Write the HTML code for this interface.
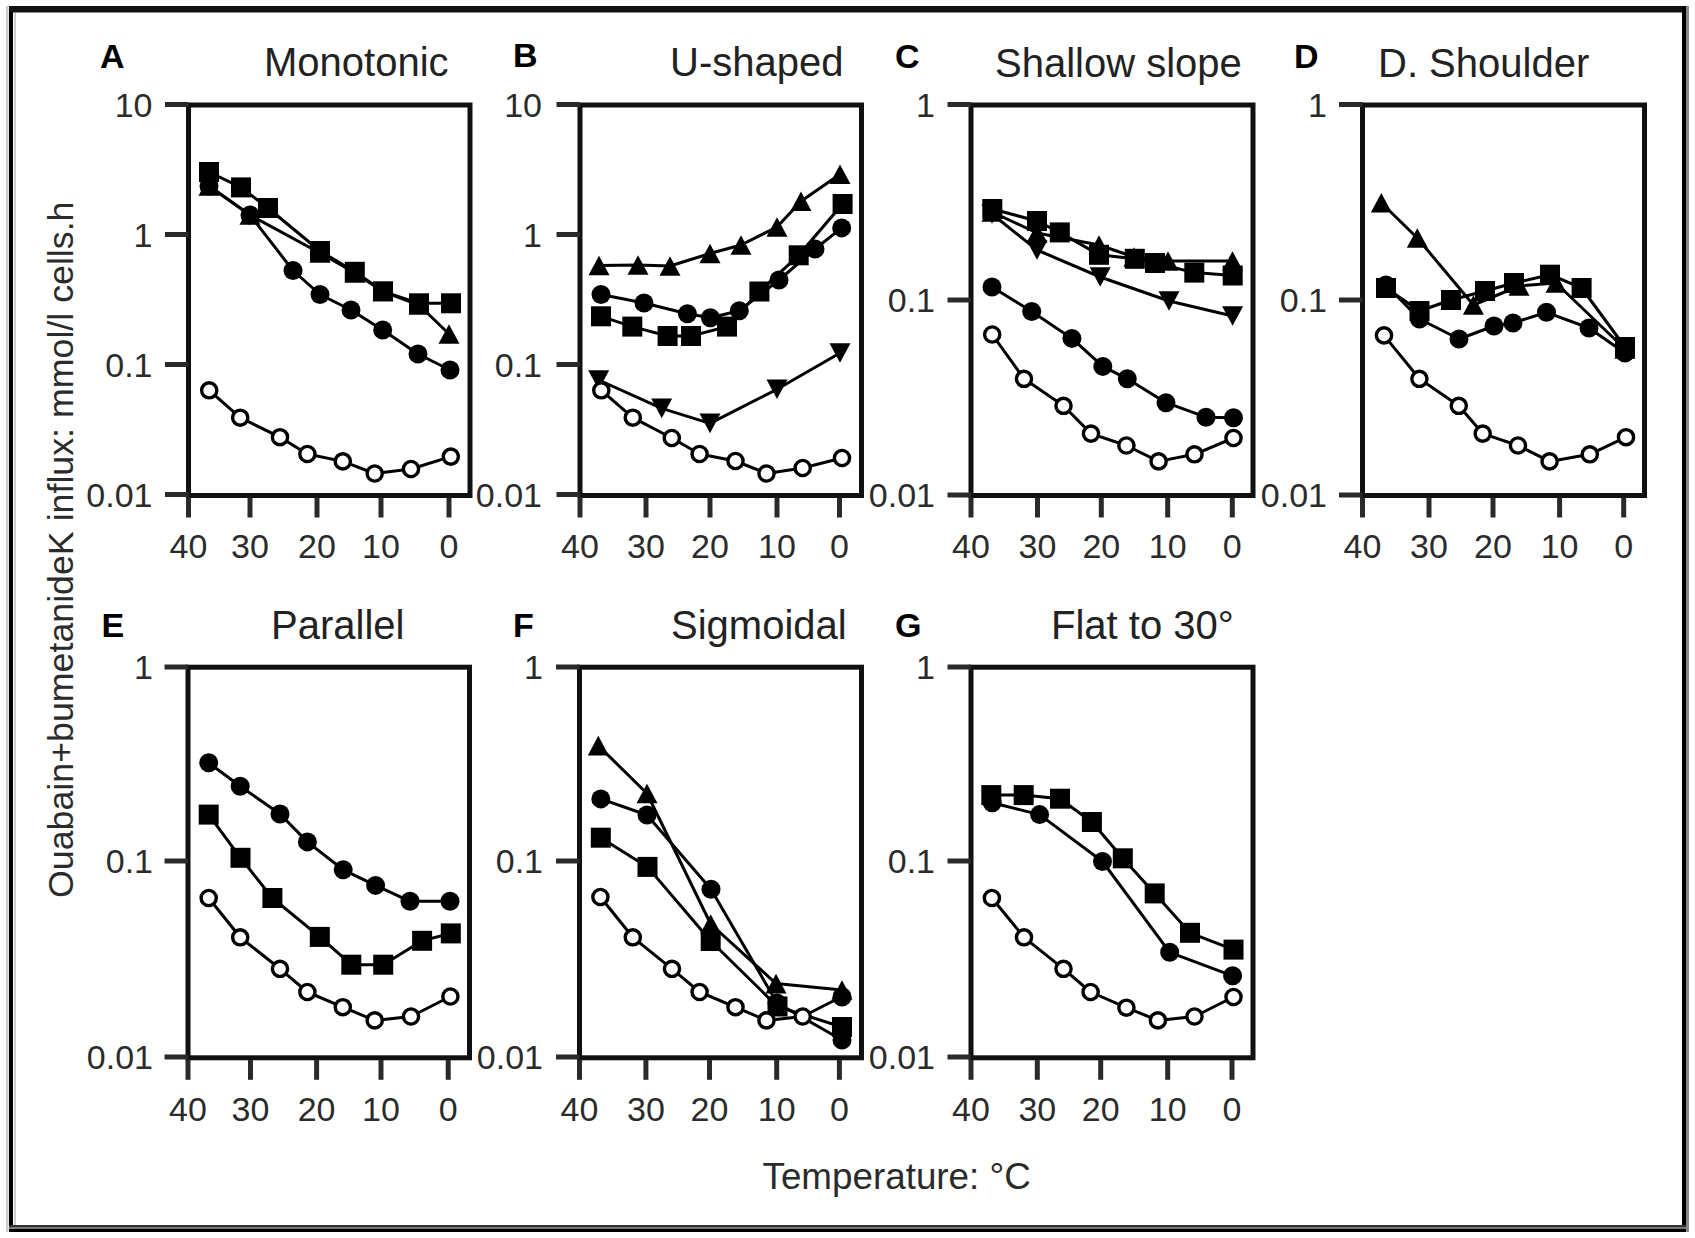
<!DOCTYPE html><html><head><meta charset="utf-8"><title>Figure</title><style>html,body{margin:0;padding:0;background:#fff;}svg{display:block;}</style></head><body><svg width="1695" height="1238" viewBox="0 0 1695 1238" font-family="Liberation Sans, Arial, sans-serif">
<rect width="1695" height="1238" fill="#fff"/>
<rect x="6" y="6" width="2.5" height="1226" fill="#ccc"/>
<rect x="9" y="6" width="4" height="1226" fill="#000"/>
<rect x="14" y="13" width="2" height="1212" fill="#ccc"/>
<rect x="9" y="6" width="1680" height="6.5" fill="#111"/>
<rect x="1682" y="6" width="4" height="1226" fill="#000"/>
<rect x="1686" y="6" width="3" height="1226" fill="#888"/>
<rect x="9" y="1225" width="1677" height="2.5" fill="#333"/>
<rect x="9" y="1227" width="1677" height="2" fill="#777"/>
<rect x="9" y="1229" width="1677" height="3" fill="#000"/>
<rect x="188.5" y="105.0" width="281.5" height="390.5" fill="none" stroke="#111" stroke-width="5.0"/>
<line x1="165.0" y1="104.5" x2="188.5" y2="104.5" stroke="#2a2a2a" stroke-width="5"/>
<text x="152.5" y="116.7" font-size="34" text-anchor="end" fill="#2b2b2b">10</text>
<line x1="165.0" y1="234.5" x2="188.5" y2="234.5" stroke="#2a2a2a" stroke-width="5"/>
<text x="152.5" y="246.7" font-size="34" text-anchor="end" fill="#2b2b2b">1</text>
<line x1="165.0" y1="364.5" x2="188.5" y2="364.5" stroke="#2a2a2a" stroke-width="5"/>
<text x="152.5" y="376.7" font-size="34" text-anchor="end" fill="#2b2b2b">0.1</text>
<line x1="165.0" y1="494.5" x2="188.5" y2="494.5" stroke="#2a2a2a" stroke-width="5"/>
<text x="152.5" y="506.7" font-size="34" text-anchor="end" fill="#2b2b2b">0.01</text>
<line x1="188.5" y1="497.5" x2="188.5" y2="517.5" stroke="#2a2a2a" stroke-width="5"/>
<text x="188.5" y="557.5" font-size="34" text-anchor="middle" fill="#2b2b2b">40</text>
<line x1="250" y1="497.5" x2="250" y2="517.5" stroke="#2a2a2a" stroke-width="5"/>
<text x="250" y="557.5" font-size="34" text-anchor="middle" fill="#2b2b2b">30</text>
<line x1="317" y1="497.5" x2="317" y2="517.5" stroke="#2a2a2a" stroke-width="5"/>
<text x="317" y="557.5" font-size="34" text-anchor="middle" fill="#2b2b2b">20</text>
<line x1="381" y1="497.5" x2="381" y2="517.5" stroke="#2a2a2a" stroke-width="5"/>
<text x="381" y="557.5" font-size="34" text-anchor="middle" fill="#2b2b2b">10</text>
<line x1="449" y1="497.5" x2="449" y2="517.5" stroke="#2a2a2a" stroke-width="5"/>
<text x="449" y="557.5" font-size="34" text-anchor="middle" fill="#2b2b2b">0</text>
<rect x="580.0" y="105.0" width="281.5" height="390.5" fill="none" stroke="#111" stroke-width="5.0"/>
<line x1="556.5" y1="104.5" x2="580.0" y2="104.5" stroke="#2a2a2a" stroke-width="5"/>
<text x="542" y="116.7" font-size="34" text-anchor="end" fill="#2b2b2b">10</text>
<line x1="556.5" y1="234.5" x2="580.0" y2="234.5" stroke="#2a2a2a" stroke-width="5"/>
<text x="542" y="246.7" font-size="34" text-anchor="end" fill="#2b2b2b">1</text>
<line x1="556.5" y1="364.5" x2="580.0" y2="364.5" stroke="#2a2a2a" stroke-width="5"/>
<text x="542" y="376.7" font-size="34" text-anchor="end" fill="#2b2b2b">0.1</text>
<line x1="556.5" y1="494.5" x2="580.0" y2="494.5" stroke="#2a2a2a" stroke-width="5"/>
<text x="542" y="506.7" font-size="34" text-anchor="end" fill="#2b2b2b">0.01</text>
<line x1="580" y1="497.5" x2="580" y2="517.5" stroke="#2a2a2a" stroke-width="5"/>
<text x="580" y="557.5" font-size="34" text-anchor="middle" fill="#2b2b2b">40</text>
<line x1="646" y1="497.5" x2="646" y2="517.5" stroke="#2a2a2a" stroke-width="5"/>
<text x="646" y="557.5" font-size="34" text-anchor="middle" fill="#2b2b2b">30</text>
<line x1="710" y1="497.5" x2="710" y2="517.5" stroke="#2a2a2a" stroke-width="5"/>
<text x="710" y="557.5" font-size="34" text-anchor="middle" fill="#2b2b2b">20</text>
<line x1="777" y1="497.5" x2="777" y2="517.5" stroke="#2a2a2a" stroke-width="5"/>
<text x="777" y="557.5" font-size="34" text-anchor="middle" fill="#2b2b2b">10</text>
<line x1="839.5" y1="497.5" x2="839.5" y2="517.5" stroke="#2a2a2a" stroke-width="5"/>
<text x="839.5" y="557.5" font-size="34" text-anchor="middle" fill="#2b2b2b">0</text>
<rect x="971.0" y="105.0" width="282.0" height="390.5" fill="none" stroke="#111" stroke-width="5.0"/>
<line x1="947.5" y1="104.5" x2="971.0" y2="104.5" stroke="#2a2a2a" stroke-width="5"/>
<text x="935" y="116.7" font-size="34" text-anchor="end" fill="#2b2b2b">1</text>
<line x1="947.5" y1="300.0" x2="971.0" y2="300.0" stroke="#2a2a2a" stroke-width="5"/>
<text x="935" y="312.2" font-size="34" text-anchor="end" fill="#2b2b2b">0.1</text>
<line x1="947.5" y1="495.0" x2="971.0" y2="495.0" stroke="#2a2a2a" stroke-width="5"/>
<text x="935" y="507.2" font-size="34" text-anchor="end" fill="#2b2b2b">0.01</text>
<line x1="971" y1="497.5" x2="971" y2="517.5" stroke="#2a2a2a" stroke-width="5"/>
<text x="971" y="557.5" font-size="34" text-anchor="middle" fill="#2b2b2b">40</text>
<line x1="1037.5" y1="497.5" x2="1037.5" y2="517.5" stroke="#2a2a2a" stroke-width="5"/>
<text x="1037.5" y="557.5" font-size="34" text-anchor="middle" fill="#2b2b2b">30</text>
<line x1="1101.3" y1="497.5" x2="1101.3" y2="517.5" stroke="#2a2a2a" stroke-width="5"/>
<text x="1101.3" y="557.5" font-size="34" text-anchor="middle" fill="#2b2b2b">20</text>
<line x1="1167.7" y1="497.5" x2="1167.7" y2="517.5" stroke="#2a2a2a" stroke-width="5"/>
<text x="1167.7" y="557.5" font-size="34" text-anchor="middle" fill="#2b2b2b">10</text>
<line x1="1232.3" y1="497.5" x2="1232.3" y2="517.5" stroke="#2a2a2a" stroke-width="5"/>
<text x="1232.3" y="557.5" font-size="34" text-anchor="middle" fill="#2b2b2b">0</text>
<rect x="1362.5" y="105.0" width="282.0" height="390.5" fill="none" stroke="#111" stroke-width="5.0"/>
<line x1="1339.0" y1="104.5" x2="1362.5" y2="104.5" stroke="#2a2a2a" stroke-width="5"/>
<text x="1327" y="116.7" font-size="34" text-anchor="end" fill="#2b2b2b">1</text>
<line x1="1339.0" y1="300.0" x2="1362.5" y2="300.0" stroke="#2a2a2a" stroke-width="5"/>
<text x="1327" y="312.2" font-size="34" text-anchor="end" fill="#2b2b2b">0.1</text>
<line x1="1339.0" y1="495.0" x2="1362.5" y2="495.0" stroke="#2a2a2a" stroke-width="5"/>
<text x="1327" y="507.2" font-size="34" text-anchor="end" fill="#2b2b2b">0.01</text>
<line x1="1362.5" y1="497.5" x2="1362.5" y2="517.5" stroke="#2a2a2a" stroke-width="5"/>
<text x="1362.5" y="557.5" font-size="34" text-anchor="middle" fill="#2b2b2b">40</text>
<line x1="1429" y1="497.5" x2="1429" y2="517.5" stroke="#2a2a2a" stroke-width="5"/>
<text x="1429" y="557.5" font-size="34" text-anchor="middle" fill="#2b2b2b">30</text>
<line x1="1493" y1="497.5" x2="1493" y2="517.5" stroke="#2a2a2a" stroke-width="5"/>
<text x="1493" y="557.5" font-size="34" text-anchor="middle" fill="#2b2b2b">20</text>
<line x1="1559.6" y1="497.5" x2="1559.6" y2="517.5" stroke="#2a2a2a" stroke-width="5"/>
<text x="1559.6" y="557.5" font-size="34" text-anchor="middle" fill="#2b2b2b">10</text>
<line x1="1623.7" y1="497.5" x2="1623.7" y2="517.5" stroke="#2a2a2a" stroke-width="5"/>
<text x="1623.7" y="557.5" font-size="34" text-anchor="middle" fill="#2b2b2b">0</text>
<rect x="188.0" y="667.2" width="281.5" height="390.5999999999999" fill="none" stroke="#111" stroke-width="5.0"/>
<line x1="164.5" y1="667.0" x2="188.0" y2="667.0" stroke="#2a2a2a" stroke-width="5"/>
<text x="153" y="679.2" font-size="34" text-anchor="end" fill="#2b2b2b">1</text>
<line x1="164.5" y1="861.0" x2="188.0" y2="861.0" stroke="#2a2a2a" stroke-width="5"/>
<text x="153" y="873.2" font-size="34" text-anchor="end" fill="#2b2b2b">0.1</text>
<line x1="164.5" y1="1057.0" x2="188.0" y2="1057.0" stroke="#2a2a2a" stroke-width="5"/>
<text x="153" y="1069.2" font-size="34" text-anchor="end" fill="#2b2b2b">0.01</text>
<line x1="188" y1="1059.8" x2="188" y2="1079.8" stroke="#2a2a2a" stroke-width="5"/>
<text x="188" y="1121.1" font-size="34" text-anchor="middle" fill="#2b2b2b">40</text>
<line x1="250.5" y1="1059.8" x2="250.5" y2="1079.8" stroke="#2a2a2a" stroke-width="5"/>
<text x="250.5" y="1121.1" font-size="34" text-anchor="middle" fill="#2b2b2b">30</text>
<line x1="316.6" y1="1059.8" x2="316.6" y2="1079.8" stroke="#2a2a2a" stroke-width="5"/>
<text x="316.6" y="1121.1" font-size="34" text-anchor="middle" fill="#2b2b2b">20</text>
<line x1="381" y1="1059.8" x2="381" y2="1079.8" stroke="#2a2a2a" stroke-width="5"/>
<text x="381" y="1121.1" font-size="34" text-anchor="middle" fill="#2b2b2b">10</text>
<line x1="448.2" y1="1059.8" x2="448.2" y2="1079.8" stroke="#2a2a2a" stroke-width="5"/>
<text x="448.2" y="1121.1" font-size="34" text-anchor="middle" fill="#2b2b2b">0</text>
<rect x="579.5" y="667.2" width="282.0" height="390.5999999999999" fill="none" stroke="#111" stroke-width="5.0"/>
<line x1="556.0" y1="667.0" x2="579.5" y2="667.0" stroke="#2a2a2a" stroke-width="5"/>
<text x="543" y="679.2" font-size="34" text-anchor="end" fill="#2b2b2b">1</text>
<line x1="556.0" y1="861.0" x2="579.5" y2="861.0" stroke="#2a2a2a" stroke-width="5"/>
<text x="543" y="873.2" font-size="34" text-anchor="end" fill="#2b2b2b">0.1</text>
<line x1="556.0" y1="1057.0" x2="579.5" y2="1057.0" stroke="#2a2a2a" stroke-width="5"/>
<text x="543" y="1069.2" font-size="34" text-anchor="end" fill="#2b2b2b">0.01</text>
<line x1="579.5" y1="1059.8" x2="579.5" y2="1079.8" stroke="#2a2a2a" stroke-width="5"/>
<text x="579.5" y="1121.1" font-size="34" text-anchor="middle" fill="#2b2b2b">40</text>
<line x1="645.9" y1="1059.8" x2="645.9" y2="1079.8" stroke="#2a2a2a" stroke-width="5"/>
<text x="645.9" y="1121.1" font-size="34" text-anchor="middle" fill="#2b2b2b">30</text>
<line x1="709.5" y1="1059.8" x2="709.5" y2="1079.8" stroke="#2a2a2a" stroke-width="5"/>
<text x="709.5" y="1121.1" font-size="34" text-anchor="middle" fill="#2b2b2b">20</text>
<line x1="776.7" y1="1059.8" x2="776.7" y2="1079.8" stroke="#2a2a2a" stroke-width="5"/>
<text x="776.7" y="1121.1" font-size="34" text-anchor="middle" fill="#2b2b2b">10</text>
<line x1="839.4" y1="1059.8" x2="839.4" y2="1079.8" stroke="#2a2a2a" stroke-width="5"/>
<text x="839.4" y="1121.1" font-size="34" text-anchor="middle" fill="#2b2b2b">0</text>
<rect x="971.0" y="667.2" width="282.0" height="390.5999999999999" fill="none" stroke="#111" stroke-width="5.0"/>
<line x1="947.5" y1="667.0" x2="971.0" y2="667.0" stroke="#2a2a2a" stroke-width="5"/>
<text x="935" y="679.2" font-size="34" text-anchor="end" fill="#2b2b2b">1</text>
<line x1="947.5" y1="861.0" x2="971.0" y2="861.0" stroke="#2a2a2a" stroke-width="5"/>
<text x="935" y="873.2" font-size="34" text-anchor="end" fill="#2b2b2b">0.1</text>
<line x1="947.5" y1="1057.0" x2="971.0" y2="1057.0" stroke="#2a2a2a" stroke-width="5"/>
<text x="935" y="1069.2" font-size="34" text-anchor="end" fill="#2b2b2b">0.01</text>
<line x1="971" y1="1059.8" x2="971" y2="1079.8" stroke="#2a2a2a" stroke-width="5"/>
<text x="971" y="1121.1" font-size="34" text-anchor="middle" fill="#2b2b2b">40</text>
<line x1="1037.3" y1="1059.8" x2="1037.3" y2="1079.8" stroke="#2a2a2a" stroke-width="5"/>
<text x="1037.3" y="1121.1" font-size="34" text-anchor="middle" fill="#2b2b2b">30</text>
<line x1="1100.7" y1="1059.8" x2="1100.7" y2="1079.8" stroke="#2a2a2a" stroke-width="5"/>
<text x="1100.7" y="1121.1" font-size="34" text-anchor="middle" fill="#2b2b2b">20</text>
<line x1="1167.7" y1="1059.8" x2="1167.7" y2="1079.8" stroke="#2a2a2a" stroke-width="5"/>
<text x="1167.7" y="1121.1" font-size="34" text-anchor="middle" fill="#2b2b2b">10</text>
<line x1="1232" y1="1059.8" x2="1232" y2="1079.8" stroke="#2a2a2a" stroke-width="5"/>
<text x="1232" y="1121.1" font-size="34" text-anchor="middle" fill="#2b2b2b">0</text>
<path d="M209.0,186.0 L250.0,215.0 L320.0,253.0 L355.0,273.0 L383.0,291.5 L419.0,305.0 L449.0,334.0" fill="none" stroke="#000" stroke-width="3.0" stroke-linejoin="round"/>
<path d="M209.0,186.0 L250.0,215.0 L293.0,270.5 L320.0,294.5 L351.0,310.0 L382.7,330.0 L418.0,354.0 L450.0,370.0" fill="none" stroke="#000" stroke-width="3.0" stroke-linejoin="round"/>
<path d="M209.0,172.0 L241.0,187.4 L268.0,208.0 L320.0,251.0 L354.8,271.8 L383.0,291.3 L419.0,303.3 L451.0,303.3" fill="none" stroke="#000" stroke-width="3.0" stroke-linejoin="round"/>
<path d="M209.2,390.3 L240.2,417.7 L280.0,437.2 L307.4,454.0 L342.8,461.4 L374.7,473.5 L411.0,469.0 L450.8,456.6" fill="none" stroke="#000" stroke-width="3.0" stroke-linejoin="round"/>
<path d="M209.0,176.2 L219.5,195.8 L198.5,195.8 Z" fill="#000"/>
<path d="M250.0,205.2 L260.5,224.8 L239.5,224.8 Z" fill="#000"/>
<path d="M320.0,243.2 L330.5,262.8 L309.5,262.8 Z" fill="#000"/>
<path d="M355.0,263.2 L365.5,282.8 L344.5,282.8 Z" fill="#000"/>
<path d="M383.0,281.7 L393.5,301.3 L372.5,301.3 Z" fill="#000"/>
<path d="M419.0,295.2 L429.5,314.8 L408.5,314.8 Z" fill="#000"/>
<path d="M449.0,324.2 L459.5,343.8 L438.5,343.8 Z" fill="#000"/>
<circle cx="209.0" cy="186.0" r="9.5" fill="#000"/>
<circle cx="250.0" cy="215.0" r="9.5" fill="#000"/>
<circle cx="293.0" cy="270.5" r="9.5" fill="#000"/>
<circle cx="320.0" cy="294.5" r="9.5" fill="#000"/>
<circle cx="351.0" cy="310.0" r="9.5" fill="#000"/>
<circle cx="382.7" cy="330.0" r="9.5" fill="#000"/>
<circle cx="418.0" cy="354.0" r="9.5" fill="#000"/>
<circle cx="450.0" cy="370.0" r="9.5" fill="#000"/>
<rect x="199.0" y="162.0" width="20.0" height="20.0" fill="#000"/>
<rect x="231.0" y="177.4" width="20.0" height="20.0" fill="#000"/>
<rect x="258.0" y="198.0" width="20.0" height="20.0" fill="#000"/>
<rect x="310.0" y="241.0" width="20.0" height="20.0" fill="#000"/>
<rect x="344.8" y="261.8" width="20.0" height="20.0" fill="#000"/>
<rect x="373.0" y="281.3" width="20.0" height="20.0" fill="#000"/>
<rect x="409.0" y="293.3" width="20.0" height="20.0" fill="#000"/>
<rect x="441.0" y="293.3" width="20.0" height="20.0" fill="#000"/>
<circle cx="209.2" cy="390.3" r="7.6" fill="#fff" stroke="#000" stroke-width="3.4"/>
<circle cx="240.2" cy="417.7" r="7.6" fill="#fff" stroke="#000" stroke-width="3.4"/>
<circle cx="280.0" cy="437.2" r="7.6" fill="#fff" stroke="#000" stroke-width="3.4"/>
<circle cx="307.4" cy="454.0" r="7.6" fill="#fff" stroke="#000" stroke-width="3.4"/>
<circle cx="342.8" cy="461.4" r="7.6" fill="#fff" stroke="#000" stroke-width="3.4"/>
<circle cx="374.7" cy="473.5" r="7.6" fill="#fff" stroke="#000" stroke-width="3.4"/>
<circle cx="411.0" cy="469.0" r="7.6" fill="#fff" stroke="#000" stroke-width="3.4"/>
<circle cx="450.8" cy="456.6" r="7.6" fill="#fff" stroke="#000" stroke-width="3.4"/>
<path d="M599.0,265.5 L638.0,265.0 L670.0,266.0 L710.0,253.5 L741.0,245.0 L777.0,227.0 L801.0,201.3 L840.0,174.3" fill="none" stroke="#000" stroke-width="3.0" stroke-linejoin="round"/>
<path d="M601.0,294.5 L644.0,303.0 L687.4,313.7 L710.4,317.8 L739.3,310.7 L779.0,280.0 L815.0,249.0 L841.7,227.9" fill="none" stroke="#000" stroke-width="3.0" stroke-linejoin="round"/>
<path d="M601.0,316.3 L632.3,326.6 L667.6,336.0 L691.0,336.0 L727.0,326.6 L759.4,291.5 L798.7,255.3 L842.6,204.0" fill="none" stroke="#000" stroke-width="3.0" stroke-linejoin="round"/>
<path d="M598.7,380.0 L661.7,408.4 L710.0,423.4 L777.0,389.3 L840.0,353.0" fill="none" stroke="#000" stroke-width="3.0" stroke-linejoin="round"/>
<path d="M601.3,390.3 L632.8,417.7 L671.8,438.0 L699.6,454.0 L735.5,461.0 L766.5,473.5 L802.7,468.0 L842.0,458.0" fill="none" stroke="#000" stroke-width="3.0" stroke-linejoin="round"/>
<path d="M599.0,255.7 L609.5,275.3 L588.5,275.3 Z" fill="#000"/>
<path d="M638.0,255.2 L648.5,274.8 L627.5,274.8 Z" fill="#000"/>
<path d="M670.0,256.2 L680.5,275.8 L659.5,275.8 Z" fill="#000"/>
<path d="M710.0,243.7 L720.5,263.3 L699.5,263.3 Z" fill="#000"/>
<path d="M741.0,235.2 L751.5,254.8 L730.5,254.8 Z" fill="#000"/>
<path d="M777.0,217.2 L787.5,236.8 L766.5,236.8 Z" fill="#000"/>
<path d="M801.0,191.5 L811.5,211.1 L790.5,211.1 Z" fill="#000"/>
<path d="M840.0,164.5 L850.5,184.1 L829.5,184.1 Z" fill="#000"/>
<circle cx="601.0" cy="294.5" r="9.5" fill="#000"/>
<circle cx="644.0" cy="303.0" r="9.5" fill="#000"/>
<circle cx="687.4" cy="313.7" r="9.5" fill="#000"/>
<circle cx="710.4" cy="317.8" r="9.5" fill="#000"/>
<circle cx="739.3" cy="310.7" r="9.5" fill="#000"/>
<circle cx="779.0" cy="280.0" r="9.5" fill="#000"/>
<circle cx="815.0" cy="249.0" r="9.5" fill="#000"/>
<circle cx="841.7" cy="227.9" r="9.5" fill="#000"/>
<rect x="591.0" y="306.3" width="20.0" height="20.0" fill="#000"/>
<rect x="622.3" y="316.6" width="20.0" height="20.0" fill="#000"/>
<rect x="657.6" y="326.0" width="20.0" height="20.0" fill="#000"/>
<rect x="681.0" y="326.0" width="20.0" height="20.0" fill="#000"/>
<rect x="717.0" y="316.6" width="20.0" height="20.0" fill="#000"/>
<rect x="749.4" y="281.5" width="20.0" height="20.0" fill="#000"/>
<rect x="788.7" y="245.3" width="20.0" height="20.0" fill="#000"/>
<rect x="832.6" y="194.0" width="20.0" height="20.0" fill="#000"/>
<path d="M598.7,389.8 L609.2,370.2 L588.2,370.2 Z" fill="#000"/>
<path d="M661.7,418.2 L672.2,398.6 L651.2,398.6 Z" fill="#000"/>
<path d="M710.0,433.2 L720.5,413.6 L699.5,413.6 Z" fill="#000"/>
<path d="M777.0,399.1 L787.5,379.5 L766.5,379.5 Z" fill="#000"/>
<path d="M840.0,362.8 L850.5,343.2 L829.5,343.2 Z" fill="#000"/>
<circle cx="601.3" cy="390.3" r="7.6" fill="#fff" stroke="#000" stroke-width="3.4"/>
<circle cx="632.8" cy="417.7" r="7.6" fill="#fff" stroke="#000" stroke-width="3.4"/>
<circle cx="671.8" cy="438.0" r="7.6" fill="#fff" stroke="#000" stroke-width="3.4"/>
<circle cx="699.6" cy="454.0" r="7.6" fill="#fff" stroke="#000" stroke-width="3.4"/>
<circle cx="735.5" cy="461.0" r="7.6" fill="#fff" stroke="#000" stroke-width="3.4"/>
<circle cx="766.5" cy="473.5" r="7.6" fill="#fff" stroke="#000" stroke-width="3.4"/>
<circle cx="802.7" cy="468.0" r="7.6" fill="#fff" stroke="#000" stroke-width="3.4"/>
<circle cx="842.0" cy="458.0" r="7.6" fill="#fff" stroke="#000" stroke-width="3.4"/>
<path d="M992.0,214.0 L1037.0,250.0 L1100.2,277.0 L1169.0,301.0 L1232.6,316.0" fill="none" stroke="#000" stroke-width="3.0" stroke-linejoin="round"/>
<path d="M992.0,212.0 L1037.0,233.0 L1099.0,245.0 L1134.0,257.0 L1168.0,261.0 L1232.5,261.0" fill="none" stroke="#000" stroke-width="3.0" stroke-linejoin="round"/>
<path d="M992.3,209.0 L1037.0,221.0 L1059.8,232.4 L1099.0,254.8 L1134.8,258.8 L1155.0,263.0 L1194.3,272.6 L1232.7,275.5" fill="none" stroke="#000" stroke-width="3.0" stroke-linejoin="round"/>
<path d="M992.0,287.0 L1031.7,311.5 L1071.9,338.4 L1102.8,366.4 L1127.3,378.8 L1166.0,402.7 L1206.0,417.2 L1233.5,417.7" fill="none" stroke="#000" stroke-width="3.0" stroke-linejoin="round"/>
<path d="M992.2,334.5 L1024.0,378.8 L1063.5,405.8 L1091.0,433.6 L1126.4,445.5 L1158.6,461.4 L1194.5,454.3 L1233.5,438.0" fill="none" stroke="#000" stroke-width="3.0" stroke-linejoin="round"/>
<path d="M992.0,223.8 L1002.5,204.2 L981.5,204.2 Z" fill="#000"/>
<path d="M1037.0,259.8 L1047.5,240.2 L1026.5,240.2 Z" fill="#000"/>
<path d="M1100.2,286.8 L1110.7,267.2 L1089.7,267.2 Z" fill="#000"/>
<path d="M1169.0,310.8 L1179.5,291.2 L1158.5,291.2 Z" fill="#000"/>
<path d="M1232.6,325.8 L1243.1,306.2 L1222.1,306.2 Z" fill="#000"/>
<path d="M992.0,202.2 L1002.5,221.8 L981.5,221.8 Z" fill="#000"/>
<path d="M1037.0,223.2 L1047.5,242.8 L1026.5,242.8 Z" fill="#000"/>
<path d="M1099.0,235.2 L1109.5,254.8 L1088.5,254.8 Z" fill="#000"/>
<path d="M1134.0,247.2 L1144.5,266.8 L1123.5,266.8 Z" fill="#000"/>
<path d="M1168.0,251.2 L1178.5,270.8 L1157.5,270.8 Z" fill="#000"/>
<path d="M1232.5,251.2 L1243.0,270.8 L1222.0,270.8 Z" fill="#000"/>
<rect x="982.3" y="199.0" width="20.0" height="20.0" fill="#000"/>
<rect x="1027.0" y="211.0" width="20.0" height="20.0" fill="#000"/>
<rect x="1049.8" y="222.4" width="20.0" height="20.0" fill="#000"/>
<rect x="1089.0" y="244.8" width="20.0" height="20.0" fill="#000"/>
<rect x="1124.8" y="248.8" width="20.0" height="20.0" fill="#000"/>
<rect x="1145.0" y="253.0" width="20.0" height="20.0" fill="#000"/>
<rect x="1184.3" y="262.6" width="20.0" height="20.0" fill="#000"/>
<rect x="1222.7" y="265.5" width="20.0" height="20.0" fill="#000"/>
<circle cx="992.0" cy="287.0" r="9.5" fill="#000"/>
<circle cx="1031.7" cy="311.5" r="9.5" fill="#000"/>
<circle cx="1071.9" cy="338.4" r="9.5" fill="#000"/>
<circle cx="1102.8" cy="366.4" r="9.5" fill="#000"/>
<circle cx="1127.3" cy="378.8" r="9.5" fill="#000"/>
<circle cx="1166.0" cy="402.7" r="9.5" fill="#000"/>
<circle cx="1206.0" cy="417.2" r="9.5" fill="#000"/>
<circle cx="1233.5" cy="417.7" r="9.5" fill="#000"/>
<circle cx="992.2" cy="334.5" r="7.6" fill="#fff" stroke="#000" stroke-width="3.4"/>
<circle cx="1024.0" cy="378.8" r="7.6" fill="#fff" stroke="#000" stroke-width="3.4"/>
<circle cx="1063.5" cy="405.8" r="7.6" fill="#fff" stroke="#000" stroke-width="3.4"/>
<circle cx="1091.0" cy="433.6" r="7.6" fill="#fff" stroke="#000" stroke-width="3.4"/>
<circle cx="1126.4" cy="445.5" r="7.6" fill="#fff" stroke="#000" stroke-width="3.4"/>
<circle cx="1158.6" cy="461.4" r="7.6" fill="#fff" stroke="#000" stroke-width="3.4"/>
<circle cx="1194.5" cy="454.3" r="7.6" fill="#fff" stroke="#000" stroke-width="3.4"/>
<circle cx="1233.5" cy="438.0" r="7.6" fill="#fff" stroke="#000" stroke-width="3.4"/>
<path d="M1381.3,202.7 L1417.3,238.0 L1473.4,305.0 L1519.0,286.0 L1556.0,283.0 L1625.0,349.0" fill="none" stroke="#000" stroke-width="3.0" stroke-linejoin="round"/>
<path d="M1386.0,285.0 L1419.5,319.0 L1459.0,339.0 L1494.0,326.0 L1513.0,323.0 L1546.5,312.3 L1589.0,328.0 L1625.0,353.0" fill="none" stroke="#000" stroke-width="3.0" stroke-linejoin="round"/>
<path d="M1386.0,288.0 L1419.5,311.0 L1451.0,300.0 L1485.0,291.0 L1514.0,283.0 L1550.0,274.7 L1581.6,288.0 L1625.0,347.0" fill="none" stroke="#000" stroke-width="3.0" stroke-linejoin="round"/>
<path d="M1384.0,335.4 L1419.4,378.8 L1458.8,405.8 L1482.7,433.6 L1518.0,445.5 L1549.6,461.4 L1589.8,454.3 L1626.0,437.2" fill="none" stroke="#000" stroke-width="3.0" stroke-linejoin="round"/>
<path d="M1381.3,192.9 L1391.8,212.5 L1370.8,212.5 Z" fill="#000"/>
<path d="M1417.3,228.2 L1427.8,247.8 L1406.8,247.8 Z" fill="#000"/>
<path d="M1473.4,295.2 L1483.9,314.8 L1462.9,314.8 Z" fill="#000"/>
<path d="M1519.0,276.2 L1529.5,295.8 L1508.5,295.8 Z" fill="#000"/>
<path d="M1556.0,273.2 L1566.5,292.8 L1545.5,292.8 Z" fill="#000"/>
<path d="M1625.0,339.2 L1635.5,358.8 L1614.5,358.8 Z" fill="#000"/>
<circle cx="1386.0" cy="285.0" r="9.5" fill="#000"/>
<circle cx="1419.5" cy="319.0" r="9.5" fill="#000"/>
<circle cx="1459.0" cy="339.0" r="9.5" fill="#000"/>
<circle cx="1494.0" cy="326.0" r="9.5" fill="#000"/>
<circle cx="1513.0" cy="323.0" r="9.5" fill="#000"/>
<circle cx="1546.5" cy="312.3" r="9.5" fill="#000"/>
<circle cx="1589.0" cy="328.0" r="9.5" fill="#000"/>
<circle cx="1625.0" cy="353.0" r="9.5" fill="#000"/>
<rect x="1376.0" y="278.0" width="20.0" height="20.0" fill="#000"/>
<rect x="1409.5" y="301.0" width="20.0" height="20.0" fill="#000"/>
<rect x="1441.0" y="290.0" width="20.0" height="20.0" fill="#000"/>
<rect x="1475.0" y="281.0" width="20.0" height="20.0" fill="#000"/>
<rect x="1504.0" y="273.0" width="20.0" height="20.0" fill="#000"/>
<rect x="1540.0" y="264.7" width="20.0" height="20.0" fill="#000"/>
<rect x="1571.6" y="278.0" width="20.0" height="20.0" fill="#000"/>
<rect x="1615.0" y="337.0" width="20.0" height="20.0" fill="#000"/>
<circle cx="1384.0" cy="335.4" r="7.6" fill="#fff" stroke="#000" stroke-width="3.4"/>
<circle cx="1419.4" cy="378.8" r="7.6" fill="#fff" stroke="#000" stroke-width="3.4"/>
<circle cx="1458.8" cy="405.8" r="7.6" fill="#fff" stroke="#000" stroke-width="3.4"/>
<circle cx="1482.7" cy="433.6" r="7.6" fill="#fff" stroke="#000" stroke-width="3.4"/>
<circle cx="1518.0" cy="445.5" r="7.6" fill="#fff" stroke="#000" stroke-width="3.4"/>
<circle cx="1549.6" cy="461.4" r="7.6" fill="#fff" stroke="#000" stroke-width="3.4"/>
<circle cx="1589.8" cy="454.3" r="7.6" fill="#fff" stroke="#000" stroke-width="3.4"/>
<circle cx="1626.0" cy="437.2" r="7.6" fill="#fff" stroke="#000" stroke-width="3.4"/>
<path d="M208.7,762.7 L240.2,786.3 L280.0,814.0 L307.4,841.9 L343.2,869.8 L375.6,885.4 L410.0,901.3 L450.0,901.3" fill="none" stroke="#000" stroke-width="3.0" stroke-linejoin="round"/>
<path d="M208.7,814.6 L240.5,857.8 L272.4,898.0 L319.8,936.9 L351.3,964.7 L383.2,964.7 L422.1,940.8 L450.8,933.4" fill="none" stroke="#000" stroke-width="3.0" stroke-linejoin="round"/>
<path d="M208.7,898.0 L240.2,937.3 L280.0,968.8 L307.4,992.0 L342.8,1007.2 L374.7,1020.4 L411.0,1016.5 L450.4,996.5" fill="none" stroke="#000" stroke-width="3.0" stroke-linejoin="round"/>
<circle cx="208.7" cy="762.7" r="9.5" fill="#000"/>
<circle cx="240.2" cy="786.3" r="9.5" fill="#000"/>
<circle cx="280.0" cy="814.0" r="9.5" fill="#000"/>
<circle cx="307.4" cy="841.9" r="9.5" fill="#000"/>
<circle cx="343.2" cy="869.8" r="9.5" fill="#000"/>
<circle cx="375.6" cy="885.4" r="9.5" fill="#000"/>
<circle cx="410.0" cy="901.3" r="9.5" fill="#000"/>
<circle cx="450.0" cy="901.3" r="9.5" fill="#000"/>
<rect x="198.7" y="804.6" width="20.0" height="20.0" fill="#000"/>
<rect x="230.5" y="847.8" width="20.0" height="20.0" fill="#000"/>
<rect x="262.4" y="888.0" width="20.0" height="20.0" fill="#000"/>
<rect x="309.8" y="926.9" width="20.0" height="20.0" fill="#000"/>
<rect x="341.3" y="954.7" width="20.0" height="20.0" fill="#000"/>
<rect x="373.2" y="954.7" width="20.0" height="20.0" fill="#000"/>
<rect x="412.1" y="930.8" width="20.0" height="20.0" fill="#000"/>
<rect x="440.8" y="923.4" width="20.0" height="20.0" fill="#000"/>
<circle cx="208.7" cy="898.0" r="7.6" fill="#fff" stroke="#000" stroke-width="3.4"/>
<circle cx="240.2" cy="937.3" r="7.6" fill="#fff" stroke="#000" stroke-width="3.4"/>
<circle cx="280.0" cy="968.8" r="7.6" fill="#fff" stroke="#000" stroke-width="3.4"/>
<circle cx="307.4" cy="992.0" r="7.6" fill="#fff" stroke="#000" stroke-width="3.4"/>
<circle cx="342.8" cy="1007.2" r="7.6" fill="#fff" stroke="#000" stroke-width="3.4"/>
<circle cx="374.7" cy="1020.4" r="7.6" fill="#fff" stroke="#000" stroke-width="3.4"/>
<circle cx="411.0" cy="1016.5" r="7.6" fill="#fff" stroke="#000" stroke-width="3.4"/>
<circle cx="450.4" cy="996.5" r="7.6" fill="#fff" stroke="#000" stroke-width="3.4"/>
<path d="M598.3,745.6 L647.0,793.5 L710.7,924.0 L776.0,983.6 L842.0,990.0" fill="none" stroke="#000" stroke-width="3.0" stroke-linejoin="round"/>
<path d="M600.8,798.9 L647.0,815.0 L711.0,889.2 L777.0,1003.0 L842.0,1040.0" fill="none" stroke="#000" stroke-width="3.0" stroke-linejoin="round"/>
<path d="M600.8,837.7 L647.5,866.9 L710.7,941.0 L777.5,1006.5 L842.0,1027.0" fill="none" stroke="#000" stroke-width="3.0" stroke-linejoin="round"/>
<path d="M600.4,897.0 L632.8,937.3 L672.0,968.8 L699.6,992.0 L735.5,1007.2 L766.5,1020.4 L802.7,1016.5 L842.0,996.5" fill="none" stroke="#000" stroke-width="3.0" stroke-linejoin="round"/>
<path d="M598.3,735.8 L608.8,755.4 L587.8,755.4 Z" fill="#000"/>
<path d="M647.0,783.7 L657.5,803.3 L636.5,803.3 Z" fill="#000"/>
<path d="M710.7,914.2 L721.2,933.8 L700.2,933.8 Z" fill="#000"/>
<path d="M776.0,973.8 L786.5,993.4 L765.5,993.4 Z" fill="#000"/>
<path d="M842.0,980.2 L852.5,999.8 L831.5,999.8 Z" fill="#000"/>
<circle cx="600.8" cy="798.9" r="9.5" fill="#000"/>
<circle cx="647.0" cy="815.0" r="9.5" fill="#000"/>
<circle cx="711.0" cy="889.2" r="9.5" fill="#000"/>
<circle cx="777.0" cy="1003.0" r="9.5" fill="#000"/>
<circle cx="842.0" cy="1040.0" r="9.5" fill="#000"/>
<rect x="590.8" y="827.7" width="20.0" height="20.0" fill="#000"/>
<rect x="637.5" y="856.9" width="20.0" height="20.0" fill="#000"/>
<rect x="700.7" y="931.0" width="20.0" height="20.0" fill="#000"/>
<rect x="767.5" y="996.5" width="20.0" height="20.0" fill="#000"/>
<rect x="832.0" y="1017.0" width="20.0" height="20.0" fill="#000"/>
<circle cx="600.4" cy="897.0" r="7.6" fill="#fff" stroke="#000" stroke-width="3.4"/>
<circle cx="632.8" cy="937.3" r="7.6" fill="#fff" stroke="#000" stroke-width="3.4"/>
<circle cx="672.0" cy="968.8" r="7.6" fill="#fff" stroke="#000" stroke-width="3.4"/>
<circle cx="699.6" cy="992.0" r="7.6" fill="#fff" stroke="#000" stroke-width="3.4"/>
<circle cx="735.5" cy="1007.2" r="7.6" fill="#fff" stroke="#000" stroke-width="3.4"/>
<circle cx="766.5" cy="1020.4" r="7.6" fill="#fff" stroke="#000" stroke-width="3.4"/>
<circle cx="802.7" cy="1016.5" r="7.6" fill="#fff" stroke="#000" stroke-width="3.4"/>
<circle cx="842.0" cy="996.5" r="7.6" fill="#fff" stroke="#000" stroke-width="3.4"/>
<circle cx="842.0" cy="997.0" r="9.5" fill="#000"/>
<path d="M992.2,802.7 L1039.6,814.6 L1102.5,861.5 L1169.7,952.3 L1232.6,975.8" fill="none" stroke="#000" stroke-width="3.0" stroke-linejoin="round"/>
<path d="M991.3,795.1 L1023.7,795.1 L1060.0,798.7 L1091.9,822.0 L1122.8,858.3 L1154.7,893.4 L1190.0,932.8 L1233.5,949.6" fill="none" stroke="#000" stroke-width="3.0" stroke-linejoin="round"/>
<path d="M991.9,898.0 L1024.0,937.3 L1063.5,968.8 L1090.6,992.0 L1126.4,1007.7 L1157.9,1020.4 L1194.5,1016.5 L1233.5,997.0" fill="none" stroke="#000" stroke-width="3.0" stroke-linejoin="round"/>
<circle cx="992.2" cy="802.7" r="9.5" fill="#000"/>
<circle cx="1039.6" cy="814.6" r="9.5" fill="#000"/>
<circle cx="1102.5" cy="861.5" r="9.5" fill="#000"/>
<circle cx="1169.7" cy="952.3" r="9.5" fill="#000"/>
<circle cx="1232.6" cy="975.8" r="9.5" fill="#000"/>
<rect x="981.3" y="785.1" width="20.0" height="20.0" fill="#000"/>
<rect x="1013.7" y="785.1" width="20.0" height="20.0" fill="#000"/>
<rect x="1050.0" y="788.7" width="20.0" height="20.0" fill="#000"/>
<rect x="1081.9" y="812.0" width="20.0" height="20.0" fill="#000"/>
<rect x="1112.8" y="848.3" width="20.0" height="20.0" fill="#000"/>
<rect x="1144.7" y="883.4" width="20.0" height="20.0" fill="#000"/>
<rect x="1180.0" y="922.8" width="20.0" height="20.0" fill="#000"/>
<rect x="1223.5" y="939.6" width="20.0" height="20.0" fill="#000"/>
<circle cx="991.9" cy="898.0" r="7.6" fill="#fff" stroke="#000" stroke-width="3.4"/>
<circle cx="1024.0" cy="937.3" r="7.6" fill="#fff" stroke="#000" stroke-width="3.4"/>
<circle cx="1063.5" cy="968.8" r="7.6" fill="#fff" stroke="#000" stroke-width="3.4"/>
<circle cx="1090.6" cy="992.0" r="7.6" fill="#fff" stroke="#000" stroke-width="3.4"/>
<circle cx="1126.4" cy="1007.7" r="7.6" fill="#fff" stroke="#000" stroke-width="3.4"/>
<circle cx="1157.9" cy="1020.4" r="7.6" fill="#fff" stroke="#000" stroke-width="3.4"/>
<circle cx="1194.5" cy="1016.5" r="7.6" fill="#fff" stroke="#000" stroke-width="3.4"/>
<circle cx="1233.5" cy="997.0" r="7.6" fill="#fff" stroke="#000" stroke-width="3.4"/>
<text x="264" y="75.5" font-size="40" fill="#222">Monotonic</text>
<text x="670" y="76" font-size="40" fill="#222">U-shaped</text>
<text x="995" y="76.5" font-size="40" fill="#222">Shallow slope</text>
<text x="1378" y="76.5" font-size="40" fill="#222">D. Shoulder</text>
<text x="271" y="639.3" font-size="40" fill="#222">Parallel</text>
<text x="671" y="639.3" font-size="40" fill="#222">Sigmoidal</text>
<text x="1051" y="639.3" font-size="40" fill="#222">Flat to 30°</text>
<text x="100" y="67.5" font-size="34" font-weight="bold" fill="#000">A</text>
<text x="513" y="66.6" font-size="34" font-weight="bold" fill="#000">B</text>
<text x="895" y="67.6" font-size="34" font-weight="bold" fill="#000">C</text>
<text x="1294" y="67.6" font-size="34" font-weight="bold" fill="#000">D</text>
<text x="101.5" y="636.7" font-size="34" font-weight="bold" fill="#000">E</text>
<text x="513" y="636.7" font-size="34" font-weight="bold" fill="#000">F</text>
<text x="895" y="636.7" font-size="34" font-weight="bold" fill="#000">G</text>
<text transform="translate(73.4,898) rotate(-90)" x="0" y="0" font-size="35.75" fill="#2b2b2b">Ouabain+bumetanideK influx: mmol/l cells.h</text>
<text x="762.5" y="1189" font-size="36.8" fill="#2b2b2b">Temperature: °C</text>
</svg></body></html>
